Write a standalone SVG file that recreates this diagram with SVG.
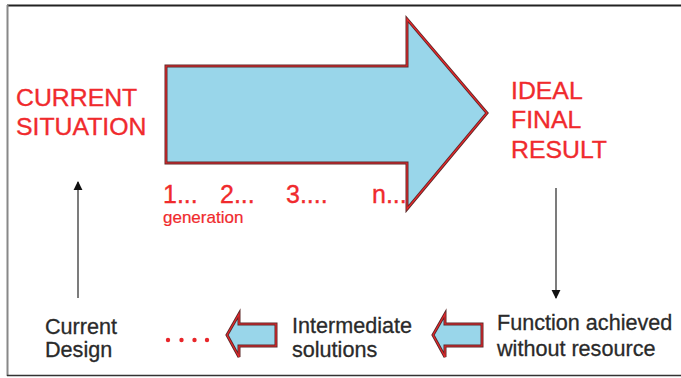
<svg xmlns="http://www.w3.org/2000/svg" width="681" height="378" viewBox="0 0 681 378">
  <defs>
    <style>
      .red { font-family: "Liberation Sans", Arial, sans-serif; fill: #f02a2d; stroke: #f02a2d; stroke-width: 0.35; }
      .big { font-size: 24.8px; }
      .num { font-size: 25px; }
      .small { font-size: 17px; stroke-width: 0.2; }
      .dark { font-family: "Liberation Sans", Arial, sans-serif; font-size: 21.6px; fill: #2a2a2a; stroke: #2a2a2a; stroke-width: 0.3; }
      .fillArrow { fill: #99d6ea; stroke: #5c2a2a; stroke-width: 3; stroke-linejoin: miter; }
      .edgeArrow { fill: none; stroke: #e8262a; stroke-width: 1.2; stroke-linejoin: miter; }
      .conn { stroke: #6e6e6e; stroke-width: 1.8; fill: none; }
    </style>
    <marker id="tri" viewBox="0 0 10 10" refX="9" refY="5" markerWidth="9" markerHeight="10" markerUnits="userSpaceOnUse" orient="auto">
      <path d="M0,0 L10,5 L0,10 Z" fill="#111"/>
    </marker>
    <path id="bigArrowShape" d="M166,66 L407,66 L407,19 L487,113 L407,209 L407,163 L166,163 Z"/>
    <path id="leftArrowShape" d="M0,0 L12,-21 L12,-11 L49,-11 L49,11 L12,11 L12,22 Z"/>
  </defs>

  <!-- frame -->
  <g id="frame">
    <line x1="7" y1="5.5" x2="681" y2="5.5" stroke="#222" stroke-width="2"/>
    <line x1="7.5" y1="5" x2="7.5" y2="376" stroke="#888" stroke-width="2"/>
    <line x1="7" y1="375.5" x2="681" y2="375.5" stroke="#333" stroke-width="1.6"/>
  </g>

  <!-- generations arrow -->
  <g id="generation-arrow">
    <use href="#bigArrowShape" class="fillArrow"/>
    <use href="#bigArrowShape" class="edgeArrow"/>
  </g>

  <g id="current-situation">
    <text class="red big" x="16" y="106">CURRENT</text>
    <text class="red big" x="16" y="135">SITUATION</text>
  </g>

  <g id="ideal-final-result">
    <text class="red big" x="511" y="99">IDEAL</text>
    <text class="red big" x="511" y="128">FINAL</text>
    <text class="red big" x="511" y="158">RESULT</text>
  </g>

  <g id="generations">
    <text class="red num" x="163" y="203">1...</text>
    <text class="red num" x="220" y="203">2...</text>
    <text class="red num" x="286" y="203">3....</text>
    <text class="red num" x="372" y="203">n...</text>
    <text class="red small" x="163" y="223">generation</text>
  </g>

  <g id="current-design">
    <text class="dark" x="45" y="334">Current</text>
    <text class="dark" x="45" y="357">Design</text>
  </g>

  <g id="ellipsis">
    <circle cx="168" cy="340" r="2.2" fill="#e8262a"/>
    <circle cx="181.5" cy="340" r="2.2" fill="#e8262a"/>
    <circle cx="194.5" cy="340" r="2.2" fill="#e8262a"/>
    <circle cx="207" cy="340" r="2.2" fill="#e8262a"/>
  </g>

  <g id="intermediate-solutions">
    <text class="dark" x="292" y="333">Intermediate</text>
    <text class="dark" x="292" y="357">solutions</text>
  </g>

  <g id="function-achieved">
    <text class="dark" x="497" y="330">Function achieved</text>
    <text class="dark" x="497" y="356">without resource</text>
  </g>

  <!-- connectors -->
  <g id="connectors">
    <line class="conn" x1="78" y1="298" x2="78" y2="182" marker-end="url(#tri)"/>
    <line class="conn" x1="556" y1="188" x2="556" y2="298" marker-end="url(#tri)"/>
    <g transform="translate(227,335)">
      <use href="#leftArrowShape" class="fillArrow" stroke-width="2.6"/>
      <use href="#leftArrowShape" class="edgeArrow"/>
    </g>
    <g transform="translate(433,335)">
      <use href="#leftArrowShape" class="fillArrow" stroke-width="2.6"/>
      <use href="#leftArrowShape" class="edgeArrow"/>
    </g>
  </g>
</svg>
